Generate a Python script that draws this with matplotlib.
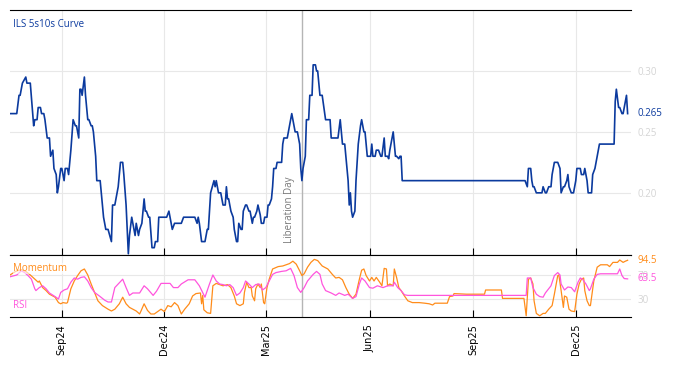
import matplotlib
matplotlib.use("Agg")
import matplotlib.pyplot as plt
import matplotlib.dates as mdates
import pandas as pd

# ILS 5s10s curve (daily closes)
curve_dates = [
    "2024-07-17", "2024-07-23", "2024-07-25", "2024-07-26", "2024-07-28", "2024-07-31", "2024-08-01",
    "2024-08-04", "2024-08-07", "2024-08-08", "2024-08-10", "2024-08-11", "2024-08-13", "2024-08-14",
    "2024-08-16", "2024-08-17", "2024-08-19", "2024-08-21", "2024-08-22", "2024-08-24", "2024-08-25",
    "2024-08-27", "2024-08-28", "2024-08-29", "2024-08-31", "2024-09-01", "2024-09-03", "2024-09-04",
    "2024-09-06", "2024-09-07", "2024-09-09", "2024-09-11", "2024-09-13", "2024-09-14", "2024-09-16",
    "2024-09-17", "2024-09-18", "2024-09-19", "2024-09-21", "2024-09-22", "2024-09-24", "2024-09-25",
    "2024-09-27", "2024-09-28", "2024-09-29", "2024-10-01", "2024-10-02", "2024-10-05", "2024-10-07",
    "2024-10-08", "2024-10-10", "2024-10-12", "2024-10-15", "2024-10-16", "2024-10-18", "2024-10-20",
    "2024-10-21", "2024-10-23", "2024-10-25", "2024-10-26", "2024-10-28", "2024-10-30", "2024-10-31",
    "2024-11-02", "2024-11-03", "2024-11-05", "2024-11-06", "2024-11-08", "2024-11-09", "2024-11-11",
    "2024-11-13", "2024-11-14", "2024-11-15", "2024-11-17", "2024-11-18", "2024-11-20", "2024-11-22",
    "2024-11-23", "2024-11-25", "2024-11-26", "2024-11-28", "2024-12-03", "2024-12-05", "2024-12-07",
    "2024-12-08", "2024-12-10", "2024-12-16", "2024-12-18", "2024-12-28", "2024-12-30", "2024-12-31",
    "2025-01-01", "2025-01-03", "2025-01-06", "2025-01-08", "2025-01-09", "2025-01-11", "2025-01-14",
    "2025-01-15", "2025-01-16", "2025-01-18", "2025-01-20", "2025-01-22", "2025-01-24", "2025-01-25",
    "2025-01-26", "2025-01-27", "2025-01-29", "2025-01-31", "2025-02-01", "2025-02-03", "2025-02-04",
    "2025-02-05", "2025-02-07", "2025-02-08", "2025-02-09", "2025-02-11", "2025-02-12", "2025-02-14",
    "2025-02-15", "2025-02-17", "2025-02-18", "2025-02-19", "2025-02-21", "2025-02-22", "2025-02-24",
    "2025-02-25", "2025-02-27", "2025-02-28", "2025-03-02", "2025-03-03", "2025-03-04", "2025-03-06",
    "2025-03-07", "2025-03-08", "2025-03-10", "2025-03-11", "2025-03-15", "2025-03-16", "2025-03-17",
    "2025-03-20", "2025-03-22", "2025-03-24", "2025-03-26", "2025-03-27", "2025-03-29", "2025-03-31",
    "2025-04-01", "2025-04-02", "2025-04-03", "2025-04-05", "2025-04-06", "2025-04-08", "2025-04-09",
    "2025-04-11", "2025-04-12", "2025-04-14", "2025-04-15", "2025-04-16", "2025-04-18", "2025-04-20",
    "2025-04-23", "2025-04-27", "2025-04-28", "2025-05-04", "2025-05-06", "2025-05-07", "2025-05-08",
    "2025-05-10", "2025-05-11", "2025-05-13", "2025-05-14", "2025-05-15", "2025-05-16", "2025-05-17",
    "2025-05-19", "2025-05-20", "2025-05-22", "2025-05-24", "2025-05-25", "2025-05-26", "2025-05-27",
    "2025-05-28", "2025-05-30", "2025-06-02", "2025-06-03", "2025-06-04", "2025-06-06", "2025-06-07",
    "2025-06-09", "2025-06-11", "2025-06-12", "2025-06-14", "2025-06-15", "2025-06-17", "2025-06-18",
    "2025-06-19", "2025-06-21", "2025-06-22", "2025-06-24", "2025-06-25", "2025-06-27", "2025-06-28",
    "2025-06-29", "2025-06-30", "2025-10-17", "2025-10-19", "2025-10-20", "2025-10-22", "2025-10-23",
    "2025-10-24", "2025-10-25", "2025-10-27", "2025-11-01", "2025-11-02", "2025-11-04", "2025-11-05",
    "2025-11-07", "2025-11-09", "2025-11-10", "2025-11-12", "2025-11-15", "2025-11-17", "2025-11-18",
    "2025-11-20", "2025-11-21", "2025-11-23", "2025-11-24", "2025-11-25", "2025-11-27", "2025-11-29",
    "2025-12-01", "2025-12-02", "2025-12-05", "2025-12-06", "2025-12-08", "2025-12-09", "2025-12-11",
    "2025-12-12", "2025-12-15", "2025-12-16", "2025-12-18", "2025-12-20", "2025-12-22", "2026-01-04",
    "2026-01-05", "2026-01-06", "2026-01-08", "2026-01-09", "2026-01-11", "2026-01-12", "2026-01-13",
    "2026-01-15", "2026-01-16",
]
curve = [
    0.265, 0.265, 0.28, 0.28, 0.29, 0.295, 0.29,
    0.29, 0.255, 0.26, 0.26, 0.27, 0.27, 0.265,
    0.265, 0.26, 0.245, 0.245, 0.23, 0.235, 0.22,
    0.215, 0.20, 0.205, 0.22, 0.22, 0.21, 0.22,
    0.22, 0.215, 0.235, 0.26, 0.255, 0.255, 0.245,
    0.285, 0.285, 0.28, 0.295, 0.28, 0.26, 0.26,
    0.255, 0.255, 0.25, 0.23, 0.21, 0.21, 0.19,
    0.18, 0.17, 0.17, 0.16, 0.19, 0.19, 0.20,
    0.205, 0.225, 0.225, 0.215, 0.19, 0.15, 0.165,
    0.18, 0.175, 0.165, 0.175, 0.165, 0.17, 0.175,
    0.195, 0.185, 0.185, 0.18, 0.18, 0.155, 0.155,
    0.16, 0.16, 0.18, 0.18, 0.18, 0.185, 0.175,
    0.17, 0.175, 0.175, 0.18, 0.18, 0.175, 0.18,
    0.175, 0.16, 0.16, 0.17, 0.17, 0.20, 0.21,
    0.205, 0.21, 0.20, 0.20, 0.19, 0.19, 0.205,
    0.195, 0.195, 0.185, 0.18, 0.17, 0.16, 0.16,
    0.175, 0.17, 0.17, 0.185, 0.19, 0.19, 0.185,
    0.185, 0.175, 0.18, 0.18, 0.185, 0.19, 0.182,
    0.175, 0.175, 0.18, 0.18, 0.19, 0.19, 0.195,
    0.205, 0.22, 0.22, 0.225, 0.225, 0.24, 0.245,
    0.245, 0.255, 0.265, 0.255, 0.25, 0.25, 0.24,
    0.22, 0.21, 0.22, 0.23, 0.26, 0.26, 0.28,
    0.28, 0.305, 0.305, 0.30, 0.30, 0.28, 0.28,
    0.26, 0.26, 0.245, 0.245, 0.26, 0.25, 0.24,
    0.24, 0.23, 0.21, 0.19, 0.20, 0.185, 0.18,
    0.185, 0.21, 0.24, 0.255, 0.26, 0.255, 0.25,
    0.25, 0.23, 0.23, 0.24, 0.23, 0.23, 0.235,
    0.235, 0.23, 0.23, 0.245, 0.23, 0.23, 0.228,
    0.235, 0.245, 0.25, 0.23, 0.23, 0.228, 0.23,
    0.23, 0.21, 0.21, 0.205, 0.22, 0.22, 0.21,
    0.205, 0.205, 0.20, 0.20, 0.205, 0.20, 0.20,
    0.205, 0.205, 0.215, 0.225, 0.225, 0.22, 0.20,
    0.205, 0.205, 0.21, 0.215, 0.205, 0.20, 0.20,
    0.21, 0.22, 0.22, 0.215, 0.215, 0.22, 0.21,
    0.20, 0.20, 0.215, 0.22, 0.23, 0.24, 0.24,
    0.275, 0.285, 0.27, 0.27, 0.265, 0.265, 0.27,
    0.28, 0.265,
]

mom_dates = [
    "2024-07-17", "2024-07-22", "2024-07-27", "2024-07-31", "2024-08-04", "2024-08-08", "2024-08-11",
    "2024-08-12", "2024-08-15", "2024-08-18", "2024-08-21", "2024-08-26", "2024-08-29", "2024-08-31",
    "2024-09-02", "2024-09-05", "2024-09-06", "2024-09-09", "2024-09-12", "2024-09-15", "2024-09-18",
    "2024-09-21", "2024-09-24", "2024-09-27", "2024-09-30", "2024-10-03", "2024-10-07", "2024-10-12",
    "2024-10-15", "2024-10-18", "2024-10-22", "2024-10-25", "2024-10-28", "2024-10-31", "2024-11-03",
    "2024-11-06", "2024-11-09", "2024-11-10", "2024-11-13", "2024-11-16", "2024-11-19", "2024-11-22",
    "2024-11-25", "2024-11-28", "2024-12-01", "2024-12-04", "2024-12-07", "2024-12-10", "2024-12-13",
    "2024-12-16", "2024-12-19", "2024-12-23", "2024-12-26", "2024-12-29", "2025-01-02", "2025-01-03",
    "2025-01-04", "2025-01-05", "2025-01-08", "2025-01-11", "2025-01-13", "2025-01-16", "2025-01-19",
    "2025-01-22", "2025-01-26", "2025-01-29", "2025-02-01", "2025-02-03", "2025-02-06", "2025-02-09",
    "2025-02-10", "2025-02-12", "2025-02-14", "2025-02-16", "2025-02-17", "2025-02-19", "2025-02-20",
    "2025-02-22", "2025-02-24", "2025-02-25", "2025-02-27", "2025-02-28", "2025-03-02", "2025-03-04",
    "2025-03-07", "2025-03-12", "2025-03-16", "2025-03-22", "2025-03-25", "2025-03-28", "2025-03-31",
    "2025-04-02", "2025-04-04", "2025-04-07", "2025-04-10", "2025-04-13", "2025-04-16", "2025-04-20",
    "2025-04-25", "2025-04-29", "2025-05-02", "2025-05-05", "2025-05-08", "2025-05-11", "2025-05-14",
    "2025-05-17", "2025-05-20", "2025-05-23", "2025-05-25", "2025-05-27", "2025-05-29", "2025-06-01",
    "2025-06-03", "2025-06-05", "2025-06-07", "2025-06-10", "2025-06-12", "2025-06-14", "2025-06-16",
    "2025-06-17", "2025-06-19", "2025-06-22", "2025-06-23", "2025-06-25", "2025-06-27", "2025-06-29",
    "2025-07-02", "2025-07-05", "2025-07-09", "2025-07-15", "2025-07-20", "2025-07-24", "2025-07-27",
    "2025-07-29", "2025-08-09", "2025-08-11", "2025-08-14", "2025-08-15", "2025-08-26", "2025-09-11",
    "2025-09-12", "2025-09-26", "2025-09-27", "2025-10-16", "2025-10-18", "2025-10-20", "2025-10-22",
    "2025-10-24", "2025-10-25", "2025-10-27", "2025-10-30", "2025-11-02", "2025-11-04", "2025-11-07",
    "2025-11-10", "2025-11-12", "2025-11-15", "2025-11-16", "2025-11-18", "2025-11-20", "2025-11-21",
    "2025-11-23", "2025-11-25", "2025-11-27", "2025-11-30", "2025-12-02", "2025-12-04", "2025-12-06",
    "2025-12-08", "2025-12-09", "2025-12-11", "2025-12-13", "2025-12-14", "2025-12-17", "2025-12-20",
    "2025-12-23", "2025-12-29", "2025-12-31", "2026-01-03", "2026-01-07", "2026-01-09", "2026-01-12",
    "2026-01-14", "2026-01-16",
]
momentum = [
    70, 76, 79, 76, 70, 63, 58,
    60, 49, 44, 38, 33, 24, 22,
    24, 23, 24, 47, 60, 69, 77,
    80, 70, 55, 41, 27, 19, 13,
    10, 13, 22, 33, 22, 16, 13,
    10, 5, 9, 22, 11, 5, 5,
    9, 13, 9, 19, 17, 24, 19,
    5, 13, 22, 35, 39, 40, 22,
    36, 12, 7, 6, 52, 56, 54,
    52, 54, 49, 35, 22, 19, 22,
    41, 58, 49, 49, 35, 27, 47,
    55, 49, 55, 24, 22, 49, 63,
    80, 84, 85, 89, 93, 88, 77,
    69, 72, 83, 91, 96, 94, 85,
    80, 71, 65, 66, 62, 49, 38,
    31, 38, 63, 78, 80, 69, 60,
    66, 60, 66, 58, 52, 81, 80,
    52, 55, 52, 80, 66, 49, 44,
    35, 27, 24, 24, 23, 22, 20,
    23, 23, 34, 35, 39, 38, 38,
    45, 45, 31, 31, 2, 63, 65,
    55, 27, 6, 2, 6, 6, 13,
    19, 38, 69, 70, 44, 16, 35,
    33, 13, 10, 9, 38, 55, 63,
    65, 44, 27, 19, 19, 60, 83,
    87, 87, 84, 91, 91, 95, 91,
    93, 94.5,
]

rsi_dates = [
    "2024-07-17", "2024-07-23", "2024-07-27", "2024-07-30", "2024-08-02", "2024-08-05", "2024-08-08",
    "2024-08-09", "2024-08-12", "2024-08-15", "2024-08-18", "2024-08-21", "2024-08-26", "2024-08-29",
    "2024-08-31", "2024-09-03", "2024-09-06", "2024-09-09", "2024-09-12", "2024-09-15", "2024-09-18",
    "2024-09-21", "2024-09-24", "2024-09-27", "2024-09-30", "2024-10-05", "2024-10-09", "2024-10-12",
    "2024-10-15", "2024-10-18", "2024-10-21", "2024-10-25", "2024-10-28", "2024-10-31", "2024-11-03",
    "2024-11-09", "2024-11-13", "2024-11-16", "2024-11-21", "2024-11-24", "2024-11-28", "2024-12-06",
    "2024-12-09", "2024-12-13", "2024-12-16", "2024-12-22", "2024-12-28", "2025-01-01", "2025-01-06",
    "2025-01-10", "2025-01-13", "2025-01-16", "2025-01-19", "2025-01-22", "2025-01-25", "2025-01-28",
    "2025-01-31", "2025-02-03", "2025-02-06", "2025-02-09", "2025-02-11", "2025-02-14", "2025-02-17",
    "2025-02-20", "2025-02-23", "2025-02-26", "2025-03-01", "2025-03-04", "2025-03-07", "2025-03-10",
    "2025-03-15", "2025-03-19", "2025-03-23", "2025-03-26", "2025-03-29", "2025-04-01", "2025-04-04",
    "2025-04-07", "2025-04-12", "2025-04-15", "2025-04-18", "2025-04-20", "2025-04-23", "2025-04-28",
    "2025-05-02", "2025-05-05", "2025-05-10", "2025-05-13", "2025-05-17", "2025-05-20", "2025-05-23",
    "2025-05-25", "2025-05-28", "2025-06-01", "2025-06-04", "2025-06-08", "2025-06-13", "2025-06-17",
    "2025-06-22", "2025-06-23", "2025-06-26", "2025-06-29", "2025-07-02", "2025-07-05", "2025-10-18",
    "2025-10-19", "2025-10-22", "2025-10-24", "2025-10-27", "2025-10-30", "2025-11-02", "2025-11-04",
    "2025-11-09", "2025-11-12", "2025-11-15", "2025-11-17", "2025-11-18", "2025-11-21", "2025-11-24",
    "2025-11-27", "2025-11-30", "2025-12-03", "2025-12-05", "2025-12-07", "2025-12-10", "2025-12-13",
    "2025-12-14", "2025-12-17", "2025-12-20", "2025-12-23", "2026-01-07", "2026-01-09", "2026-01-11",
    "2026-01-13", "2026-01-16",
]
rsi = [
    67, 70, 77, 74, 69, 63, 47,
    44, 49, 52, 47, 40, 34, 30,
    41, 45, 47, 58, 65, 63, 66,
    67, 60, 49, 41, 34, 28, 25,
    25, 49, 55, 63, 49, 36, 40,
    40, 52, 47, 36, 43, 56, 56,
    49, 49, 55, 62, 62, 52, 33,
    55, 70, 60, 55, 54, 52, 54,
    49, 36, 40, 49, 60, 55, 49,
    54, 55, 45, 49, 60, 71, 74,
    76, 77, 81, 69, 49, 41, 49,
    60, 71, 76, 71, 55, 44, 40,
    36, 40, 36, 38, 31, 34, 55,
    65, 60, 49, 48, 52, 49, 52,
    52, 58, 49, 44, 37, 36, 36,
    65, 65, 49, 38, 34, 33, 40,
    52, 69, 74, 70, 55, 45, 50,
    49, 42, 58, 65, 63, 55, 44,
    47, 63, 71, 72, 72, 80, 69,
    64, 63.5,
]

liberation_day = "2025-04-02"
tick_dates = ["2024-09-01", "2024-12-01", "2025-03-01", "2025-06-01", "2025-09-01", "2025-12-01"]
tick_labels = ["Sep24", "Dec24", "Mar25", "Jun25", "Sep25", "Dec25"]

BLUE = "#0b3a9e"
ORANGE = "#ff8c1a"
PINK = "#ff55dd"
GRID = "#e8e8e8"
LIGHT = "#d4d4d4"
SANS = "Open Sans"

cd = pd.to_datetime(curve_dates)
md = pd.to_datetime(mom_dates)
rd = pd.to_datetime(rsi_dates)
lib = mdates.date2num(pd.Timestamp(liberation_day))
ticks = pd.to_datetime(tick_dates)

fig = plt.figure(figsize=(6.74, 3.66), dpi=100)
ax = fig.add_axes([10/674, 1-255/366, 621/674, 245/366])
ax2 = fig.add_axes([10/674, 1-317/366, 621/674, 62/366], sharex=ax)

# main panel
ax.plot(cd, curve, color=BLUE, lw=1.2, zorder=3)
ax.set_xlim(pd.Timestamp("2024-07-17"), pd.Timestamp("2026-01-19"))
ax.set_ylim(0.149, 0.35)
ax.set_xticks(ticks)
ax.set_yticks([0.20, 0.25, 0.30])
ax.set_yticklabels(["0.20", "0.25", "0.30"], fontfamily=SANS)
ax.yaxis.tick_right()
ax.tick_params(axis="y", length=0, pad=5, labelsize=7, labelcolor=LIGHT)
ax.tick_params(axis="x", direction="in", length=5, labelbottom=False)
ax.grid(color=GRID, lw=0.8)
ax.set_axisbelow(True)
for s in ["left", "right"]:
    ax.spines[s].set_visible(False)
ax.axvline(lib, color="#b5b5b5", lw=1, zorder=2)
ax.annotate("Liberation Day", xy=(lib, 0), xycoords=ax.get_xaxis_transform(),
            xytext=(-7, 12), textcoords="offset pixels", rotation=90,
            ha="right", va="bottom", fontsize=7, color="#777777", fontfamily=SANS)
ax.text(0.005, 0.94, "ILS 5s10s Curve", transform=ax.transAxes, color=BLUE,
        fontsize=7, va="center", fontfamily=SANS)
ax.annotate(f"{curve[-1]:.3f}", xy=(1, curve[-1]), xycoords=ax.get_yaxis_transform(),
            xytext=(6, 0), textcoords="offset pixels", va="center", fontsize=7,
            color=BLUE, fontfamily=SANS)

# indicator panel
ax2.plot(md, momentum, color=ORANGE, lw=0.9, zorder=3)
ax2.plot(rd, rsi, color=PINK, lw=0.9, zorder=3)
ax2.set_ylim(0, 103.3)
ax2.set_yticks([30, 70])
ax2.set_yticklabels(["30", "70"], fontfamily=SANS)
ax2.yaxis.tick_right()
ax2.tick_params(axis="y", length=0, pad=5, labelsize=7, labelcolor=LIGHT)
ax2.set_xticks(ticks)
ax2.set_xticklabels(tick_labels)
ax2.tick_params(axis="x", direction="in", length=5, labelsize=7, labelrotation=90, pad=5)
ax2.grid(color=GRID, lw=0.8)
ax2.set_axisbelow(True)
for s in ["left", "right"]:
    ax2.spines[s].set_visible(False)
ax2.axvline(lib, color="#b5b5b5", lw=1, zorder=2)
ax2.text(0.005, 0.79, "Momentum", transform=ax2.transAxes, color=ORANGE, fontsize=7,
         va="center", fontfamily=SANS, zorder=4,
         bbox=dict(facecolor="white", edgecolor="none", alpha=0.6, pad=0))
ax2.text(0.005, 0.18, "RSI", transform=ax2.transAxes, color=PINK, fontsize=7,
         va="center", fontfamily=SANS)
ax2.annotate(f"{momentum[-1]:.1f}", xy=(1, momentum[-1]), xycoords=ax2.get_yaxis_transform(),
             xytext=(6, 0), textcoords="offset pixels", va="center", fontsize=7,
             color=ORANGE, fontfamily=SANS)
ax2.annotate(f"{rsi[-1]:.1f}", xy=(1, rsi[-1]), xycoords=ax2.get_yaxis_transform(),
             xytext=(6, 0), textcoords="offset pixels", va="center", fontsize=7,
             color=PINK, fontfamily=SANS)

fig.savefig("out.png", dpi=100)
